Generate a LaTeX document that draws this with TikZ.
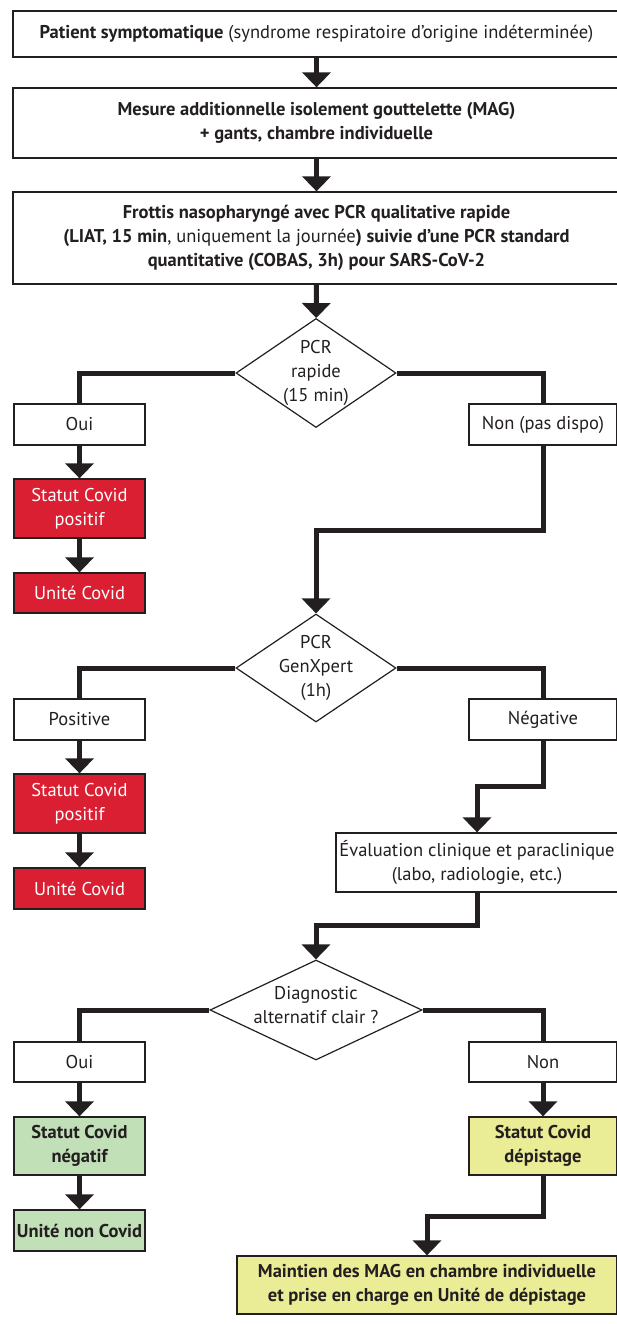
\documentclass[tikz,border=0pt]{standalone}
\usepackage{fontspec}
\setmainfont{PT Sans}
\usepackage{xcolor}
\usetikzlibrary{shapes.geometric,arrows.meta,positioning}
\definecolor{covidred}{RGB}{218,31,50}
\definecolor{covidgreen}{RGB}{193,224,184}
\definecolor{covidyellow}{RGB}{234,236,150}
\definecolor{inkline}{RGB}{35,31,32}
\begin{document}
\begin{tikzpicture}[x=1pt,y=-1pt,
stepbox/.style={draw=inkline, line width=1.3pt, align=center, inner sep=0pt,
  fill=white, font=\fontsize{18.5}{24}\selectfont, text=inkline},
smallbox/.style={stepbox, minimum width=131pt},
rightbox/.style={stepbox, minimum width=148pt},
redbox/.style={smallbox, fill=covidred, text=white},
greenbox/.style={smallbox, fill=covidgreen, font=\fontsize{18.5}{24}\selectfont\bfseries},
yellowbox/.style={stepbox, fill=covidyellow, font=\fontsize{18.5}{24}\selectfont\bfseries},
decision/.style={diamond, draw=inkline, line width=1.2pt, inner sep=0pt, fill=white},
dialabel/.style={align=center, inner sep=0pt, font=\fontsize{18.5}{24}\selectfont, text=inkline},
flow/.style={draw=inkline, line width=5pt, -{Triangle[width=28pt,length=15pt]}},
link/.style={draw=inkline, line width=5pt}]
\useasboundingbox (0,0) rectangle (616,1324);

% main column
\node[stepbox, minimum width=607pt, minimum height=46pt] (start) at (316.5,34)
  {\textbf{Patient symptomatique} (syndrome respiratoire d’origine indéterminée)};
\node[stepbox, minimum width=607pt, minimum height=70pt] (mag) at (316.5,123)
  {\textbf{Mesure additionnelle isolement gouttelette (MAG)}\\\textbf{+ gants, chambre individuelle}};
\node[stepbox, minimum width=607pt, minimum height=92pt] (frottis) at (316.5,238)
  {\textbf{Frottis nasopharyngé avec PCR qualitative rapide}\\
   \textbf{(LIAT, 15 min}, uniquement la journée\textbf{) suivie d’une PCR standard}\\
   \textbf{quantitative (COBAS, 3h) pour SARS-CoV-2}};

% first test
\node[decision, minimum width=160pt, minimum height=109pt,
  label={[dialabel]center:{PCR\\rapide\\(15 min)}}] (dia1) at (316,373) {};
\node[smallbox, minimum height=41pt] (oui1) at (79.5,424.5) {Oui};
\node[rightbox, minimum height=41pt] (non1) at (543,424.5) {Non (pas dispo)};
\node[redbox, minimum height=59pt] (red1) at (79.5,508.5) {Statut Covid\\positif};
\node[redbox, minimum height=40pt] (unite1) at (79.5,593) {Unité Covid};
\coordinate (k1) at (543,530);

% second test
\node[decision, minimum width=160pt, minimum height=108pt,
  label={[dialabel]center:{PCR\\GenXpert\\(1h)}}] (dia2) at (316,668) {};
\node[smallbox, minimum height=41pt] (pos) at (79.5,719.5) {Positive};
\node[rightbox, minimum height=41pt] (neg) at (543,719.5) {Négative};
\node[redbox, minimum height=59pt] (red2) at (79.5,803.5) {Statut Covid\\positif};
\node[redbox, minimum height=41pt] (unite2) at (79.5,888.5) {Unité Covid};
\coordinate (k2) at (543,786);
\node[stepbox, minimum width=282pt, minimum height=59pt] (eval) at (477,862.5)
  {Évaluation clinique et paraclinique\\(labo, radiologie, etc.)};
\coordinate (k3) at (477,925);

% third test
\node[decision, minimum width=212pt, minimum height=100pt,
  label={[dialabel, yshift=5pt]center:{Diagnostic\\alternatif clair ?}}] (dia3) at (316,1010) {};
\node[smallbox, minimum height=40pt] (oui3) at (79.5,1062) {Oui};
\node[rightbox, minimum height=40pt] (non3) at (543,1062) {Non};
\node[greenbox, minimum height=58pt] (green) at (79.5,1146) {Statut Covid\\négatif};
\node[greenbox, minimum height=41pt] (noncovid) at (79.5,1230.5) {Unité non Covid};
\node[yellowbox, minimum width=148pt, minimum height=58pt] (yellow) at (543,1146)
  {Statut Covid\\dépistage};
\coordinate (k4) at (543,1216);
\node[yellowbox, minimum width=380pt, minimum height=58pt] (maint) at (427,1285)
  {Maintien des MAG en chambre individuelle\\et prise en charge en Unité de dépistage};

% connectors
\draw[flow] (start) -- (mag);
\draw[flow] (mag) -- (frottis);
\draw[flow] (frottis) -- (dia1);
\draw[link] (dia1.west) -| (oui1.north);
\draw[link] (dia1.east) -| (non1.north);
\draw[flow] (oui1) -- (red1);
\draw[flow] (red1) -- (unite1);
\draw[flow] (non1.south) -- (k1) -| (dia2.north);
\draw[link] (dia2.west) -| (pos.north);
\draw[link] (dia2.east) -| (neg.north);
\draw[flow] (pos) -- (red2);
\draw[flow] (red2) -- (unite2);
\draw[flow] (neg.south) -- (k2) -| (eval.north);
\draw[flow] (eval.south) -- (k3) -| (dia3.north);
\draw[link] (dia3.west) -| (oui3.north);
\draw[link] (dia3.east) -| (non3.north);
\draw[flow] (oui3) -- (green);
\draw[flow] (green) -- (noncovid);
\draw[flow] (non3) -- (yellow);
\draw[flow] (yellow.south) -- (k4) -| (maint.north);
\end{tikzpicture}
\end{document}
